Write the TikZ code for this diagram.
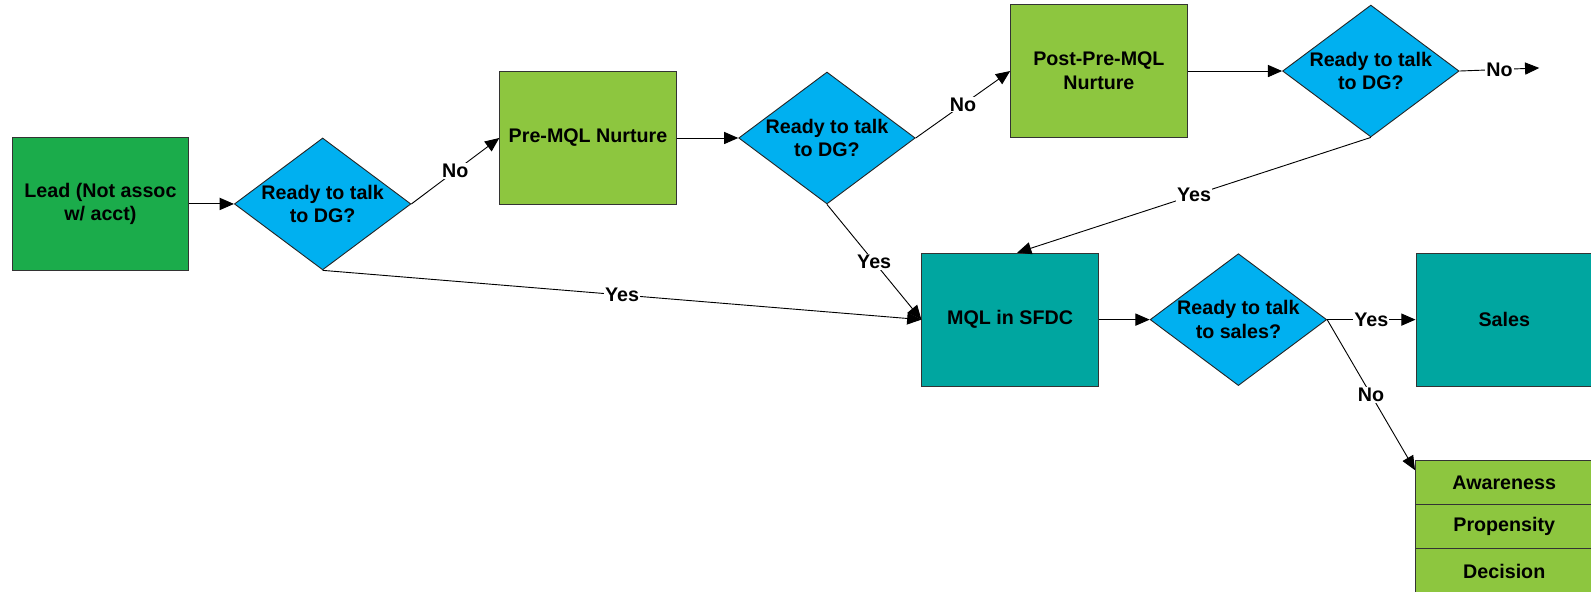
\documentclass[tikz,border=0pt]{standalone}
\usepackage{fontspec}
\setmainfont{Liberation Sans}
\usetikzlibrary{shapes.geometric,arrows.meta}
\definecolor{leadgreen}{HTML}{1BAC4B}
\definecolor{nurture}{HTML}{8DC63F}
\definecolor{decide}{HTML}{00B0F0}
\definecolor{mqlteal}{HTML}{00A6A0}
\begin{document}
\begin{tikzpicture}[x=1pt,y=-1pt,
  every node/.style={font=\fontsize{19.4}{23.5}\selectfont\bfseries},
  box/.style={draw=black!80, line width=0.9pt, minimum width=174pt, minimum height=131pt, inner sep=0pt, align=center},
  decision/.style={shape=diamond, draw=black!85, line width=0.9pt, fill=decide, minimum width=174pt, minimum height=130pt, inner sep=0pt},
  dtext/.style={align=center, inner sep=0pt},
  flow/.style={draw, line width=0.9pt, -{Triangle[length=14pt,width=12pt]}},
  lbl/.style={fill=white, inner sep=1pt},
  stage/.style={draw=black!80, line width=0.9pt, fill=nurture, minimum width=175pt, minimum height=43.5pt, inner sep=0pt}
]
\path[use as bounding box, clip] (0,0) rectangle (1568,583);

% process boxes and decisions
\node[box, fill=leadgreen] (lead) at (99,201) {Lead (Not assoc\\w/ acct)};
\node[decision] (d1) at (318,201) {};
\node[dtext] (d1t) at (d1) {Ready to talk\\to DG?};
\node[box, fill=nurture] (pre) at (579.5,136) {Pre-MQL Nurture};
\node[decision] (d2) at (815,136) {};
\node[dtext] (d2t) at (d2) {Ready to talk\\to DG?};
\node[box, fill=nurture] (post) at (1083,70) {Post-Pre-MQL\\Nurture};
\node[decision] (d3) at (1351,70) {};
\node[dtext] (d3t) at (d3) {Ready to talk\\to DG?};
\node[box, fill=mqlteal] (mqlbox) at (995.5,315) {MQL in SFDC};
\node[decision] (d4) at (1220.5,315) {};
\node[dtext] (d4t) at (d4) {Ready to talk\\to sales?};
\node[box, fill=mqlteal] (sales) at (1482.5,315) {Sales};

% nurture stages
\node[stage] (aw) at (1482.5,475.75) {Awareness};
\node[stage] (pr) at (1482.5,519.25) {Propensity};
\node[stage] (de) at (1482.5,562.75) {Decision};

% connectors
\coordinate (exit) at (1517,67);
\draw[flow] (lead.east) -- (d1.west);
\draw[flow] (d1.east) -- node[lbl]{No} (pre.west);
\draw[flow] (pre.east) -- (d2.west);
\draw[flow] (d2.east) -- node[lbl]{No} (post.west);
\draw[flow] (post.east) -- (d3.west);
\draw[flow] (d3.east) -- node[lbl]{No} (exit);
\draw[flow] (d3.south) -- node[lbl]{Yes} (mqlbox.84);
\draw[flow] (d2.south) -- node[lbl]{Yes} (mqlbox.west);
\draw[flow] (d1.south) -- node[lbl]{Yes} (mqlbox.west);
\draw[flow] (mqlbox.east) -- (d4.west);
\draw[flow] (d4.east) -- node[lbl]{Yes} (sales.west);
\draw[flow] (d4.east) -- node[lbl]{No} (aw.172);
\end{tikzpicture}
\end{document}
